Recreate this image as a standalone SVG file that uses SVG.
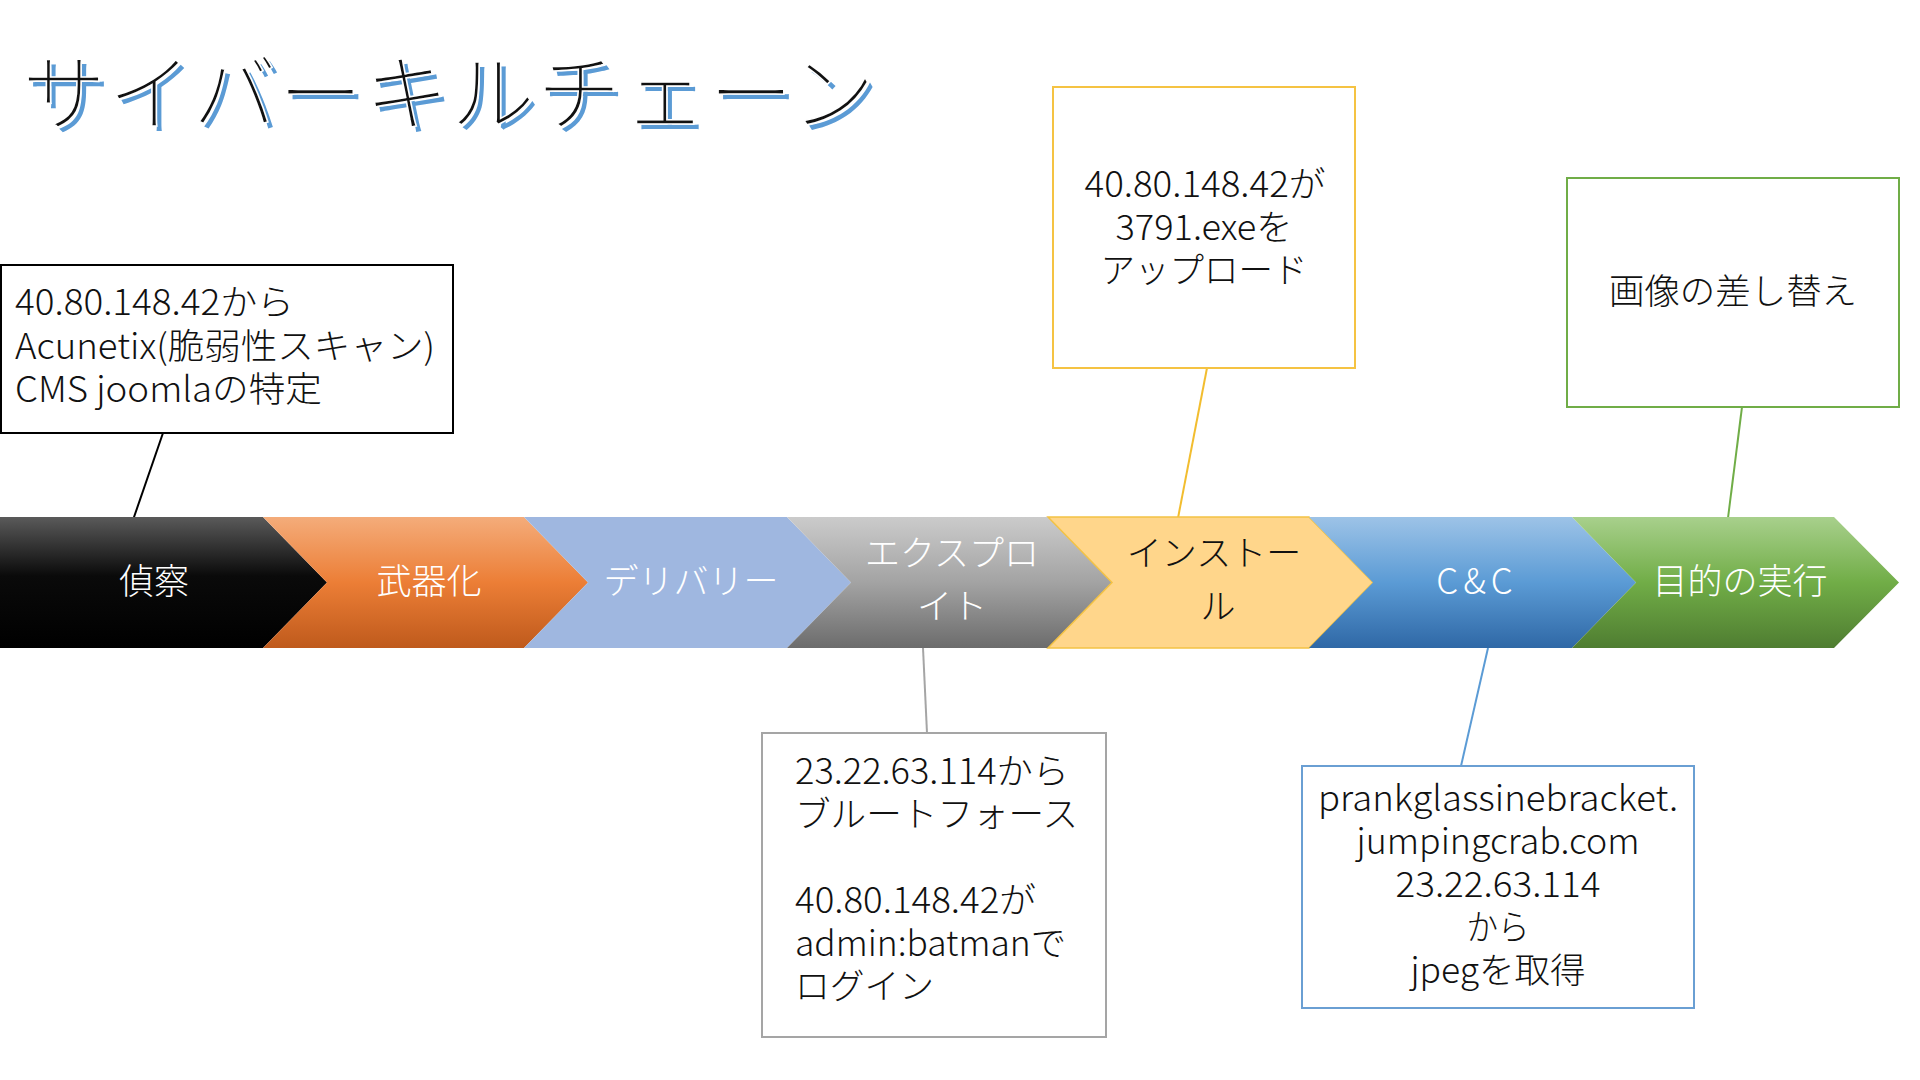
<svg xmlns="http://www.w3.org/2000/svg" width="1920" height="1080" viewBox="0 0 1920 1080">
<defs>
<linearGradient id="gBlack" x1="0" y1="0" x2="0" y2="1"><stop offset="0" stop-color="#5a5a5a"/><stop offset="0.45" stop-color="#0a0a0a"/><stop offset="1" stop-color="#000"/></linearGradient>
<linearGradient id="gOrange" x1="0" y1="0" x2="0" y2="1"><stop offset="0" stop-color="#f4ac7a"/><stop offset="0.5" stop-color="#ec7e36"/><stop offset="1" stop-color="#bf5a1c"/></linearGradient>
<linearGradient id="gGray" x1="0" y1="0" x2="0" y2="1"><stop offset="0" stop-color="#cbcbcb"/><stop offset="0.5" stop-color="#a3a3a3"/><stop offset="1" stop-color="#6c6c6c"/></linearGradient>
<linearGradient id="gBlue" x1="0" y1="0" x2="0" y2="1"><stop offset="0" stop-color="#9dc3e7"/><stop offset="0.5" stop-color="#5b9bd5"/><stop offset="1" stop-color="#2f68a6"/></linearGradient>
<linearGradient id="gGreen" x1="0" y1="0" x2="0" y2="1"><stop offset="0" stop-color="#a8d08c"/><stop offset="0.5" stop-color="#71ad47"/><stop offset="1" stop-color="#4f7d31"/></linearGradient>
</defs>
<style>
text{font-family:"Noto Sans CJK JP Light","Noto Sans CJK JP","Noto Sans",sans-serif;}
.title{font-size:84px;font-weight:300;}
.stage{font-size:35px;font-weight:300;fill:#fff;text-anchor:middle;}
.note{font-size:35px;font-weight:300;fill:#111;}
.mid{text-anchor:middle;}
.box{fill:#fff;stroke-width:2;}
.conn line{stroke-width:2;}
</style>
<rect width="1920" height="1080" fill="#fff"/>
<g id="title">
<text class="title" x="27" y="129" fill="#5b9bd5" textLength="853" lengthAdjust="spacing">サイバーキルチェーン</text>
<text class="title" x="22" y="124" fill="#111" stroke="#fff" stroke-width="1.6" textLength="853" lengthAdjust="spacing">サイバーキルチェーン</text>
</g>
<g id="connectors" class="conn">
<line x1="163" y1="433" x2="133" y2="520" stroke="#000"/>
<line x1="1207" y1="368" x2="1178" y2="518" stroke="#f2bd2f"/>
<line x1="1742" y1="407" x2="1728" y2="518" stroke="#70ad47"/>
<line x1="923" y1="648" x2="927" y2="733" stroke="#a5a5a5"/>
<line x1="1488" y1="648" x2="1461" y2="766" stroke="#5b9bd5"/>
</g>
<g id="stage-recon">
<path d="M0,517 L263,517 L327,582.5 L263,648 L0,648 Z" fill="url(#gBlack)"/>
<text class="stage" x="154" y="594">偵察</text>
</g>
<g id="stage-weapon">
<path d="M263,517 L524,517 L588,582.5 L524,648 L263,648 L327,582.5 Z" fill="url(#gOrange)"/>
<text class="stage" x="429" y="594">武器化</text>
</g>
<g id="stage-delivery">
<path d="M524,517 L787,517 L851,582.5 L787,648 L524,648 L588,582.5 Z" fill="#9fb7e0"/>
<text class="stage" x="691" y="594">デリバリー</text>
</g>
<g id="stage-exploit">
<path d="M787,517 L1048,517 L1112,582.5 L1048,648 L787,648 L851,582.5 Z" fill="url(#gGray)"/>
<text class="stage" x="952" y="566">エクスプロ</text>
<text class="stage" x="952" y="619">イト</text>
</g>
<g id="stage-install">
<path d="M1048,517 L1309,517 L1373,582.5 L1309,648 L1048,648 L1112,582.5 Z" fill="#ffd68b" stroke="#f3c244" stroke-width="1.5"/>
<text class="stage" x="1214" y="566" style="fill:#111">インストー</text>
<text class="stage" x="1218" y="619" style="fill:#111">ル</text>
</g>
<g id="stage-cc">
<path d="M1309,517 L1572,517 L1636,582.5 L1572,648 L1309,648 L1373,582.5 Z" fill="url(#gBlue)"/>
<text class="stage" x="1477" y="594" letter-spacing="5">C&amp;C</text>
</g>
<g id="stage-action">
<path d="M1572,517 L1834,517 L1899,582.5 L1834,648 L1572,648 L1636,582.5 Z" fill="url(#gGreen)"/>
<text class="stage" x="1740" y="594">目的の実行</text>
</g>
<g id="note-recon">
<rect class="box" x="1" y="265" width="452" height="168" stroke="#000"/>
<text class="note" x="15" y="315" textLength="279" lengthAdjust="spacingAndGlyphs">40.80.148.42から</text>
<text class="note" x="15" y="359" textLength="420" lengthAdjust="spacingAndGlyphs">Acunetix(脆弱性スキャン)</text>
<text class="note" x="15" y="402" textLength="307" lengthAdjust="spacingAndGlyphs">CMS joomlaの特定</text>
</g>
<g id="note-install">
<rect class="box" x="1053" y="87" width="302" height="281" stroke="#f5c343"/>
<text class="note mid" x="1205" y="197" textLength="241" lengthAdjust="spacingAndGlyphs">40.80.148.42が</text>
<text class="note mid" x="1204" y="240" textLength="177" lengthAdjust="spacingAndGlyphs">3791.exeを</text>
<text class="note mid" x="1204" y="283" textLength="207" lengthAdjust="spacingAndGlyphs">アップロード</text>
</g>
<g id="note-action">
<rect class="box" x="1567" y="178" width="332" height="229" stroke="#70ad47"/>
<text class="note mid" x="1733" y="304" textLength="248" lengthAdjust="spacingAndGlyphs">画像の差し替え</text>
</g>
<g id="note-exploit">
<rect class="box" x="762" y="733" width="344" height="304" stroke="#a5a5a5"/>
<text class="note" x="795" y="784" textLength="274" lengthAdjust="spacingAndGlyphs">23.22.63.114から</text>
<text class="note" x="795" y="827" textLength="283" lengthAdjust="spacingAndGlyphs">ブルートフォース</text>
<text class="note" x="795" y="913" textLength="241" lengthAdjust="spacingAndGlyphs">40.80.148.42が</text>
<text class="note" x="795" y="956" textLength="271" lengthAdjust="spacingAndGlyphs">admin:batmanで</text>
<text class="note" x="795" y="999" textLength="139" lengthAdjust="spacingAndGlyphs">ログイン</text>
</g>
<g id="note-cc">
<rect class="box" x="1302" y="766" width="392" height="242" stroke="#6a9fd3"/>
<text class="note mid" x="1498" y="811" textLength="360" lengthAdjust="spacingAndGlyphs">prankglassinebracket.</text>
<text class="note mid" x="1498" y="854" textLength="283" lengthAdjust="spacingAndGlyphs">jumpingcrab.com</text>
<text class="note mid" x="1498" y="897" textLength="205" lengthAdjust="spacingAndGlyphs">23.22.63.114</text>
<text class="note mid" x="1498" y="940" textLength="63" lengthAdjust="spacingAndGlyphs">から</text>
<text class="note mid" x="1498" y="983" textLength="175" lengthAdjust="spacingAndGlyphs">jpegを取得</text>
</g>
</svg>
